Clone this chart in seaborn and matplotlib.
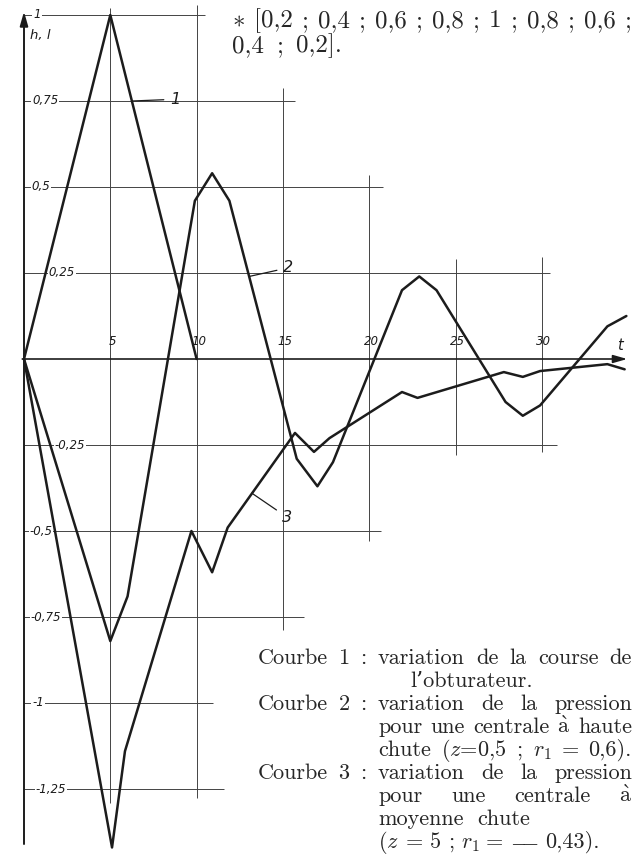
import matplotlib
matplotlib.use("Agg")
import matplotlib.pyplot as plt
import numpy as np
import pandas as pd
import seaborn as sns

# courbe 1 : course de l'obturateur
t_c1 = [0, 5, 10]
h_c1 = [0, 1.0, 0]

# courbe 2 : centrale a haute chute
t_c2 = [0, 5.0, 6.0, 9.9, 10.9, 11.9, 15.8, 17.0, 17.9, 21.9, 22.9, 23.9,
        27.9, 28.9, 29.9, 33.8, 34.9]
h_c2 = [0, -0.82, -0.69, 0.46, 0.54, 0.46, -0.29, -0.37, -0.30, 0.20, 0.24, 0.20,
        -0.125, -0.165, -0.135, 0.095, 0.125]

# courbe 3 : centrale a moyenne chute
t_c3 = [0, 5.1, 5.85, 9.7, 10.9, 11.8, 15.7, 16.8, 17.7, 21.9, 22.8, 27.8,
        28.9, 29.9, 33.8, 34.8]
h_c3 = [0, -1.42, -1.14, -0.50, -0.62, -0.49, -0.215, -0.27, -0.23, -0.096, -0.113,
        -0.038, -0.052, -0.035, -0.015, -0.03]

x_ticks = [5, 10, 15, 20, 25, 30]
x_tick_labels = ["5", "10", "15", "20", "25", "30"]
y_ticks = [1, 0.75, 0.5, 0.25, -0.25, -0.5, -0.75, -1, -1.25]
y_tick_labels = ["1", "0,75", "0,5", "0,25", "-0,25", "-0,5", "-0,75", "-1", "-1,25"]

# grille dessinee a la main : longueur de chaque trait
hgrid_end = [10.5, 15.7, 20.8, 30.5, 30.9, 20.7, 16.2, 10.95, 11.6]
vgrid_span = [(-1.29, 1.02), (-1.276, 1.03), (-0.788, 0.788),
              (-0.53, 0.535), (-0.28, 0.29), (-0.27, 0.297)]
ylab_x = [0.75, 1.22, 0.98, 2.2, 2.67, 0.98, 1.27, 0.81, 1.56]

A_GRAVE = r"$\grave{\mathrm{a}}$"
# (x gauche, ligne de base, mots, x droite pour justifier ou None)
note_top = [
    (232, 27, [r"$\ast$", "[0,2", ";", "0,4", ";", "0,6", ";", "0,8", ";", "1", ";",
               "0,8", ";", "0,6", ";"], 632),
    (232, 52, ["0,4", ";", "0,2]."], 342),
]
legend_lines = [
    (258, 664, ["Courbe", "1", ":"], 366),
    (378, 664, ["variation", "de", "la", "course", "de"], 632),
    (410, 687, ["l\u2019obturateur."], None),
    (258, 710, ["Courbe", "2", ":"], 366),
    (378, 710, ["variation", "de", "la", "pression"], 632),
    (378, 733, ["pour", "une", "centrale", A_GRAVE, "haute"], 632),
    (378, 756, ["chute", "($z$=0,5", ";", "$r_1$", "=", "0,6)."], 632),
    (258, 779, ["Courbe", "3", ":"], 366),
    (378, 779, ["variation", "de", "la", "pression"], 632),
    (378, 802, ["pour", "une", "centrale", A_GRAVE], 632),
    (378, 825, ["moyenne", "chute"], 530),
    (378, 848, ["($z$", "=", "5", ";", "$r_1$", "=", r"$-\!\!\!-$", "0,43)."], 600),
]

sns.set_theme(style="white")
plt.rcParams["mathtext.fontset"] = "cm"
serif = ["cmr10", "DejaVu Serif"]
ink = "#1c1c1c"
txt_c = "#262626"
grid_c = "#444444"

W, H = 634, 855
fig = plt.figure(figsize=(W / 100, H / 100), dpi=100)
ax = fig.add_axes([0, 0, 1, 1])
ax.set_xlim(-24 / 17.26, (W - 24) / 17.26)
ax.set_ylim((359 - H) / 344, 359 / 344)
ax.axis("off")
renderer = fig.canvas.get_renderer()


def px(x, y):
    return x / W, 1 - y / H


def justify(words, x0, y, size, x1=None):
    """Place les mots sur une ligne, espaces egaux (texte justifie)."""
    texts = [fig.text(0, 0, w, ha="left", va="baseline", family=serif,
                      fontsize=size, color=txt_c) for w in words]
    widths = [t.get_window_extent(renderer).width for t in texts]
    gap = size * 0.45
    if x1 is not None and len(words) > 1:
        gap = (x1 - x0 - sum(widths)) / (len(words) - 1)
    x = x0
    for t, w in zip(texts, widths):
        t.set_position(px(x, y))
        x += w + gap


# grille
for yv, xe in zip(y_ticks, hgrid_end):
    ax.hlines(yv, 0, xe, color=grid_c, lw=0.7, zorder=1)
for xv, (y0, y1) in zip(x_ticks, vgrid_span):
    ax.vlines(xv, y0, y1, color=grid_c, lw=0.7, zorder=1)

# axes avec fleches
ax.annotate("", xy=(0, 1.01), xytext=(0, -1.41),
            arrowprops=dict(arrowstyle="-|>,head_length=0.7,head_width=0.2",
                            color=ink, lw=1.4, shrinkA=0, shrinkB=0), zorder=2)
ax.annotate("", xy=(34.95, 0), xytext=(-0.1, 0),
            arrowprops=dict(arrowstyle="-|>,head_length=0.7,head_width=0.2",
                            color=ink, lw=1.2, shrinkA=0, shrinkB=0), zorder=2)

# courbes
for tt, hh in [(t_c1, h_c1), (t_c2, h_c2), (t_c3, h_c3)]:
    df = pd.DataFrame({"t": tt, "h": hh})
    sns.lineplot(data=df, x="t", y="h", ax=ax, color=ink, lw=1.8,
                 estimator=None, sort=False, legend=False, zorder=3)

# graduations
tick_font = dict(family="DejaVu Sans", style="italic", fontsize=8.5, color=ink)
for yv, lab, xl in zip(y_ticks, y_tick_labels, ylab_x):
    ax.text(xl, yv, lab, ha="center", va="center", zorder=2,
            bbox=dict(facecolor="white", edgecolor="none", pad=0.6), **tick_font)
for xv, lab in zip(x_ticks, x_tick_labels):
    ax.text(xv + 0.12, 0.052, lab, ha="center", va="center", **tick_font)
ax.text(0.95, 0.94, "h, l", ha="center", va="center",
        family="DejaVu Sans", style="italic", fontsize=9.5, color=ink)
ax.text(34.5, 0.04, "t", ha="center", va="center",
        family="DejaVu Sans", style="italic", fontsize=10.5, color=ink)

# reperes des courbes
for num, xy, xyt in [("1", (6.25, 0.75), (8.45, 0.755)),
                     ("2", (13.05, 0.24), (15.0, 0.265)),
                     ("3", (13.2, -0.39), (14.95, -0.46))]:
    ax.annotate(num, xy=xy, xytext=xyt, ha="left", va="center",
                family="DejaVu Sans", style="italic", fontsize=11.5, color=ink,
                arrowprops=dict(arrowstyle="-", color=ink, lw=0.9,
                                shrinkA=2, shrinkB=0))

# texte de la note
for x0, y0, words, x1 in note_top:
    justify(words, x0, y0, 18, x1=x1)

# legende des courbes
for x0, y0, words, x1 in legend_lines:
    justify(words, x0, y0, 16, x1=x1)

fig.savefig("out.png", dpi=100)
